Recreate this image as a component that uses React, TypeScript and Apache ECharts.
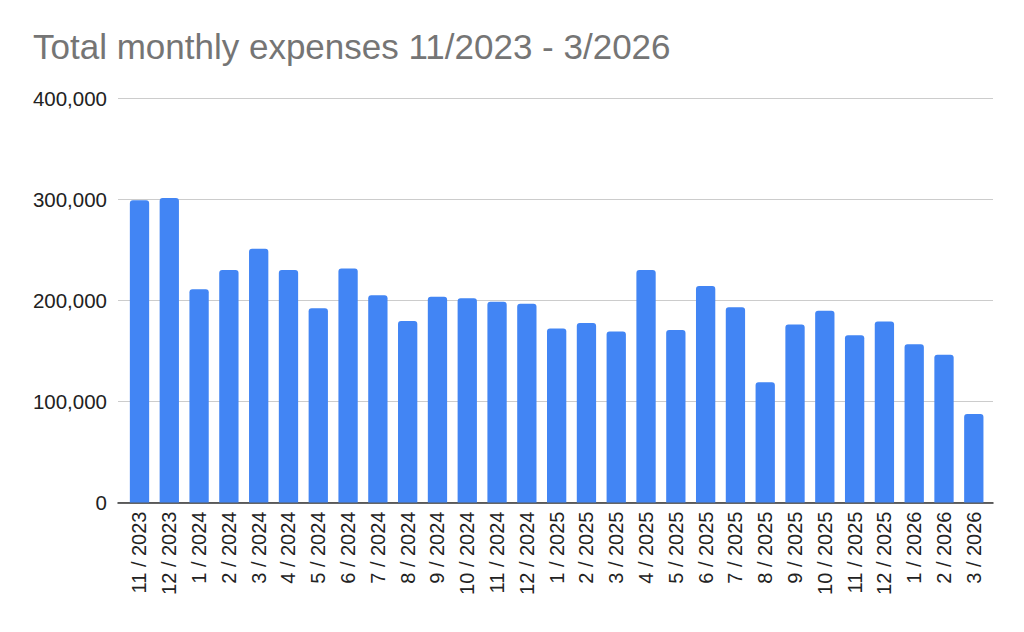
import React, { useEffect, useRef } from "react";
import * as echarts from "echarts";

const categories = [
  "11 / 2023", "12 / 2023",
  "1 / 2024", "2 / 2024", "3 / 2024", "4 / 2024", "5 / 2024", "6 / 2024",
  "7 / 2024", "8 / 2024", "9 / 2024", "10 / 2024", "11 / 2024", "12 / 2024",
  "1 / 2025", "2 / 2025", "3 / 2025", "4 / 2025", "5 / 2025", "6 / 2025",
  "7 / 2025", "8 / 2025", "9 / 2025", "10 / 2025", "11 / 2025", "12 / 2025",
  "1 / 2026", "2 / 2026", "3 / 2026",
];

const expenses = [
  299000, 301000,
  211000, 230000, 251000, 230000, 192000, 231500,
  205000, 179500, 203500, 202000, 198500, 196500,
  172000, 177500, 169000, 230000, 170500, 214000,
  193000, 119000, 176000, 189500, 165500, 179000,
  156500, 146000, 87500,
];

const yTicks = [0, 100000, 200000, 300000, 400000];

const titleText = "Total monthly expenses 11/2023 - 3/2026";

const FONT = "'Liberation Sans', Arial, Helvetica, sans-serif";

export default function App() {
  const ref = useRef<HTMLDivElement>(null);

  useEffect(() => {
    if (!ref.current) return;
    const chart = echarts.init(ref.current, null, { renderer: "svg" });
    const yMin = yTicks[0];
    const yMax = yTicks[yTicks.length - 1];
    const yInterval = yTicks[1] - yTicks[0];
    chart.setOption({
      animation: false,
      backgroundColor: "#ffffff",
      title: {
        text: titleText,
        left: 33,
        top: 29,
        padding: 0,
        textStyle: {
          fontFamily: FONT,
          fontSize: 35,
          fontWeight: "normal",
          color: "#757575",
        },
      },
      grid: [
        { left: 118, right: 31, top: 98, height: 404.5, containLabel: false },
        { left: 124.6, right: 35.3, top: 98, height: 404.5, containLabel: false },
      ],
      xAxis: [
        {
          type: "category",
          gridIndex: 0,
          data: categories,
          axisLine: { show: true, lineStyle: { color: "#333333", width: 1.5 } },
          axisTick: { show: false },
          axisLabel: { show: false },
          splitLine: { show: false },
        },
        {
          type: "category",
          gridIndex: 1,
          data: categories,
          axisLine: { show: false },
          axisTick: { show: false },
          splitLine: { show: false },
          axisLabel: {
            interval: 0,
            rotate: 90,
            margin: 9,
            fontFamily: FONT,
            fontSize: 20,
            color: "#222222",
          },
        },
      ],
      yAxis: [
        {
          type: "value",
          gridIndex: 0,
          min: yMin,
          max: yMax,
          interval: yInterval,
          axisLine: { show: false },
          axisTick: { show: false },
          splitLine: { show: true, lineStyle: { color: "#cccccc", width: 1 } },
          axisLabel: {
            margin: 11,
            fontFamily: FONT,
            fontSize: 20.5,
            color: "#222222",
            formatter: (v: number) => v.toLocaleString("en-US"),
          },
        },
        {
          type: "value",
          gridIndex: 1,
          min: yMin,
          max: yMax,
          interval: yInterval,
          show: false,
          splitLine: { show: false },
        },
      ],
      series: [
        {
          type: "bar",
          xAxisIndex: 1,
          yAxisIndex: 1,
          data: expenses,
          barWidth: 19.3,
          itemStyle: { color: "#4285F4", borderRadius: [3, 3, 0, 0] },
          z: 3,
        },
      ],
    });
    return () => chart.dispose();
  }, []);

  return (
    <div
      ref={ref}
      style={{ position: "absolute", left: 0, top: 0, width: 1024, height: 632, background: "#fff" }}
    />
  );
}
